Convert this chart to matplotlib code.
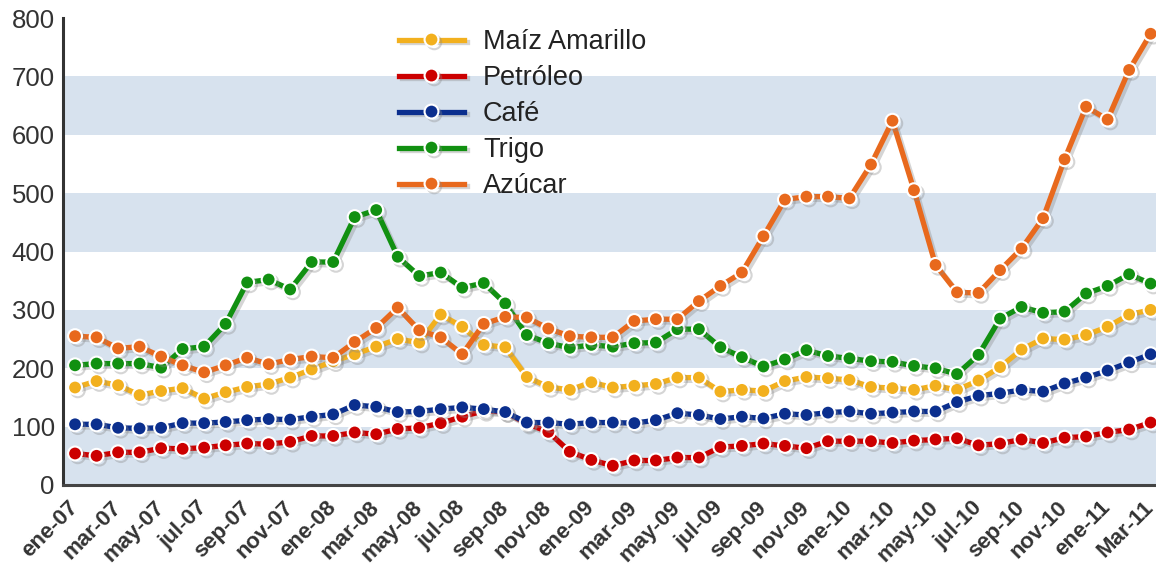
import matplotlib.pyplot as plt
import matplotlib.patheffects as pe
import numpy as np

plt.rcParams["font.family"] = ["Liberation Sans", "DejaVu Sans"]

months = ["ene", "feb", "mar", "abr", "may", "jun", "jul", "ago", "sep", "oct", "nov", "dic"]
dates = [f"{months[i % 12]}-{7 + i // 12:02d}" for i in range(51)]
tick_labels = dates[::2]
tick_labels[-1] = "Mar-11"

maiz = [167, 178, 171, 154, 161, 166, 148, 159, 168, 173, 184, 198, 212, 224, 237, 250,
        244, 292, 271, 240, 236, 185, 168, 163, 176, 167, 170, 173, 184, 184, 160, 163,
        161, 178, 185, 183, 180, 168, 166, 163, 170, 163, 179, 202, 232, 251, 249, 257,
        271, 292, 300]
petroleo = [54, 50, 56, 56, 63, 62, 64, 68, 71, 70, 74, 84, 84, 90, 87, 96,
            98, 106, 117, 127, 125, 105, 91, 57, 43, 33, 42, 42, 47, 47, 65, 67,
            71, 67, 63, 75, 75, 75, 72, 76, 78, 80, 68, 71, 78, 72, 81, 83,
            90, 95, 107]
cafe = [104, 104, 98, 97, 98, 106, 106, 108, 111, 113, 112, 117, 121, 137, 134, 125,
        126, 130, 133, 130, 125, 107, 107, 104, 107, 107, 106, 111, 123, 120, 113, 117,
        114, 122, 120, 124, 126, 122, 124, 126, 126, 142, 153, 157, 163, 160, 174, 184,
        196, 210, 224]
trigo = [205, 208, 208, 208, 201, 233, 237, 276, 347, 352, 335, 382, 382, 459, 471, 391,
         358, 364, 338, 346, 311, 257, 243, 235, 240, 237, 243, 244, 267, 267, 236, 219,
         203, 215, 231, 221, 217, 212, 211, 204, 200, 190, 223, 285, 305, 295, 297, 328,
         341, 361, 345]
azucar = [255, 253, 234, 237, 220, 205, 193, 205, 218, 207, 215, 220, 218, 245, 269, 304,
          265, 253, 224, 276, 288, 287, 268, 255, 253, 253, 281, 284, 284, 315, 341, 364,
          426, 489, 494, 494, 491, 549, 624, 505, 377, 330, 329, 368, 405, 457, 558, 648,
          626, 711, 773]

series = [
    ("Maíz Amarillo", maiz, "#f2b01e"),
    ("Petróleo", petroleo, "#cc0000"),
    ("Café", cafe, "#0b2f8e"),
    ("Trigo", trigo, "#119011"),
    ("Azúcar", azucar, "#e8691d"),
]

fig = plt.figure(figsize=(11.56, 5.71), dpi=100)
ax = fig.add_axes([63 / 1156, 86 / 571, 1 - 63 / 1156, (485 - 18) / 571])

# alternating bands
for lo in range(0, 800, 200):
    ax.axhspan(lo, lo + 100, color="#d7e2ee", zorder=0, lw=0)

x = np.arange(len(dates))
shadow = [pe.SimpleLineShadow(offset=(2, -2), shadow_color="#888888", alpha=0.35), pe.Normal()]
for label, vals, col in series:
    ax.plot(x, vals, "-o", color=col, lw=3.8, ms=10, mfc=col, mec="white", mew=1.5,
            label=label, path_effects=shadow, zorder=3)

ax.set_xlim(-0.56, 50.25)
ax.set_ylim(0, 800)
ax.set_yticks(range(0, 801, 100))
ax.set_xticks(x[::2])
ax.set_xticklabels(tick_labels, rotation=45, ha="right", va="center",
                   rotation_mode="anchor", fontweight="bold", fontsize=16, color="#333333")
ax.tick_params(axis="y", length=0, pad=6, labelsize=18.5, labelcolor="#333333")
ax.tick_params(axis="x", length=0, pad=14)

for s in ["top", "right"]:
    ax.spines[s].set_visible(False)
ax.spines["left"].set_color("#333333")
ax.spines["left"].set_linewidth(2.2)
ax.spines["bottom"].set_color("#444444")
ax.spines["bottom"].set_linewidth(2.2)

leg = ax.legend(loc="upper left", bbox_to_anchor=(399 / 1156, 1 - 29 / 571),
                bbox_transform=fig.transFigure, frameon=False, fontsize=19.5,
                handlelength=2.4, handletextpad=0.7, labelspacing=0.37,
                borderpad=0, borderaxespad=0, numpoints=1)
for t in leg.get_texts():
    t.set_color("#222222")

fig.savefig("out.png", dpi=100)
